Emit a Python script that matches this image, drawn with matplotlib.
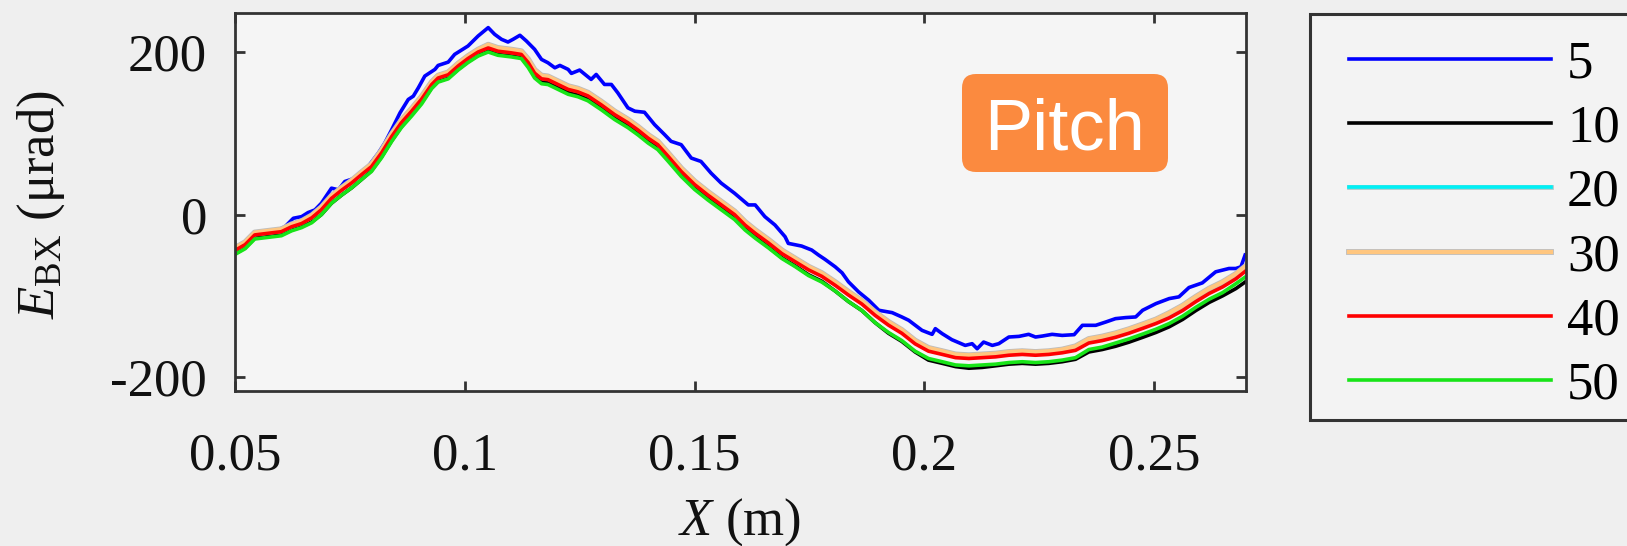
import matplotlib
matplotlib.use('Agg')
import matplotlib.pyplot as plt
import matplotlib.patheffects as pe
from matplotlib.patches import FancyBboxPatch, Rectangle
from matplotlib.transforms import IdentityTransform
from matplotlib.lines import Line2D

plt.rcParams['font.family'] = ['Liberation Serif', 'DejaVu Serif']
plt.rcParams['mathtext.fontset'] = 'custom'
plt.rcParams['mathtext.rm'] = 'Liberation Serif'
plt.rcParams['mathtext.it'] = 'Liberation Serif:italic'
plt.rcParams['mathtext.bf'] = 'Liberation Serif:bold'

# ---------------- data ----------------
legend_labels = ['5', '10', '20', '30', '40', '50']
xticks = [0.05, 0.1, 0.15, 0.2, 0.25]
xtick_labels = ['0.05', '0.1', '0.15', '0.2', '0.25']
yticks = [-200, 0, 200]
ytick_labels = ['-200', '0', '200']

x_5 = [0.0500, 0.0522, 0.0543, 0.0572, 0.0594, 0.0609, 0.0627, 0.0645, 0.0659, 0.0674,
       0.0688, 0.0710, 0.0725, 0.0739, 0.0761, 0.0775, 0.0790, 0.0812, 0.0826, 0.0841,
       0.0859, 0.0877, 0.0888, 0.0899, 0.0913, 0.0935, 0.0942, 0.0964, 0.0978, 0.1007,
       0.1029, 0.1051, 0.1065, 0.1080, 0.1094, 0.1105, 0.1120, 0.1134, 0.1152, 0.1167,
       0.1181, 0.1196, 0.1207, 0.1225, 0.1232, 0.1250, 0.1275, 0.1286, 0.1304, 0.1319,
       0.1333, 0.1355, 0.1370, 0.1391, 0.1413, 0.1435, 0.1449, 0.1471, 0.1493, 0.1514,
       0.1536, 0.1558, 0.1587,
       0.1617, 0.1632, 0.1653, 0.1675, 0.1697, 0.1704, 0.1733, 0.1755, 0.1770, 0.1784,
       0.1806, 0.1821, 0.1835, 0.1857, 0.1879, 0.1901, 0.1930, 0.1951, 0.1966, 0.1995,
       0.2017, 0.2024, 0.2039, 0.2060, 0.2089, 0.2104, 0.2115, 0.2129, 0.2148, 0.2162,
       0.2184, 0.2206, 0.2227, 0.2242, 0.2257, 0.2278, 0.2300, 0.2326, 0.2344, 0.2373,
       0.2395, 0.2416, 0.2438, 0.2460, 0.2475, 0.2504, 0.2533, 0.2554, 0.2576, 0.2605,
       0.2634, 0.2663, 0.2678, 0.2689, 0.2698]
e_5 = [-39.5, -35.4, -25.1, -21.0, -18.9, -14.8, -4.5, -2.5, 2.5, 5.8,
       14.0, 32.5, 30.5, 40.7, 44.8, 51.0, 59.3, 75.7, 88.1, 104.5,
       125.1, 141.6, 145.7, 156.0, 170.4, 178.6, 183.5, 187.6, 197.1, 207.4,
       219.7, 230.0, 221.8, 215.6, 212.3, 215.6, 220.6, 213.6, 203.3, 190.9,
       186.8, 180.6, 183.5, 178.6, 173.7, 177.8, 166.3, 172.4, 160.1, 160.1,
       149.8, 131.3, 127.2, 125.9, 110.7, 98.3, 90.1, 86.0, 69.5, 65.4,
       51.0, 38.7, 26.3,
       11.9, 11.9, -2.5, -12.8, -27.2, -35.4, -38.7, -43.6, -49.8, -55.1,
       -64.2, -71.6, -82.7, -95.1, -105.3, -117.7, -120.6, -125.9, -130.0, -142.4,
       -147.3, -140.3, -146.5, -153.9, -160.9, -158.8, -165.0, -156.8, -160.9, -158.8,
       -150.6, -149.8, -147.3, -150.6, -149.4, -147.3, -148.6, -147.7, -136.2, -136.2,
       -132.1, -128.0, -126.7, -125.9, -117.7, -109.5, -103.3, -101.2, -89.7, -84.0,
       -70.4, -66.3, -66.3, -64.2, -49.8]

x_c = [0.0500, 0.0522, 0.0543, 0.0572, 0.0601, 0.0623, 0.0645, 0.0667, 0.0688, 0.0710,
       0.0732, 0.0754, 0.0775, 0.0797, 0.0819, 0.0841, 0.0862, 0.0884, 0.0906, 0.0928,
       0.0942, 0.0964, 0.0986, 0.1007, 0.1029, 0.1051, 0.1072, 0.1101, 0.1123, 0.1138,
       0.1152, 0.1167, 0.1181, 0.1203, 0.1225, 0.1246, 0.1268, 0.1297, 0.1326, 0.1355,
       0.1377, 0.1399, 0.1420, 0.1442, 0.1471, 0.1500, 0.1529, 0.1558, 0.1587, 0.1610,
       0.1632, 0.1661, 0.1690, 0.1719, 0.1748, 0.1777, 0.1806, 0.1835, 0.1864, 0.1893,
       0.1922, 0.1951, 0.1980, 0.2009, 0.2039, 0.2068, 0.2097, 0.2126, 0.2155, 0.2184,
       0.2213, 0.2242, 0.2271, 0.2300, 0.2329, 0.2358, 0.2387, 0.2416, 0.2445, 0.2475,
       0.2504, 0.2533, 0.2562, 0.2591, 0.2620, 0.2649, 0.2678, 0.2698]

e_10 = [-48, -41, -29, -27, -25, -19, -15, -9, 0, 14,
        24, 33, 43, 54, 71, 91, 108, 123, 138, 156,
        164, 168, 179, 188, 196, 201, 197, 195, 193, 183,
        170, 163, 162, 156, 150, 147, 142, 131, 119, 109,
        100, 90, 82, 68, 49, 33, 20, 8, -4, -17,
        -27, -40, -53, -63, -74, -82, -94, -107, -118, -133,
        -146, -156, -169, -179, -183, -187, -189, -188, -186, -184,
        -183, -184, -183, -181, -178, -169, -166, -162, -157, -151,
        -145, -138, -129, -118, -108, -100, -91, -83]
e_20 = [-43, -36, -24, -22, -20, -14, -10, -3, 7, 21,
        31, 40, 50, 60, 77, 97, 114, 128, 143, 161,
        169, 173, 184, 193, 201, 207, 203, 201, 199, 189,
        176, 169, 168, 162, 156, 153, 148, 137, 125, 115,
        106, 96, 88, 74, 55, 39, 26, 14, 2, -11,
        -21, -33, -46, -56, -66, -74, -85, -97, -108, -122,
        -134, -144, -157, -166, -170, -174, -175, -174, -173, -171,
        -170, -171, -170, -167, -164, -155, -152, -148, -143, -137,
        -131, -123, -114, -104, -94, -86, -75, -66]
e_30 = [-41, -34, -22, -20, -18, -12, -8, -1, 9, 23,
        33, 42, 52, 62, 79, 99, 116, 130, 145, 163,
        171, 175, 186, 195, 203, 209, 205, 203, 201, 191,
        178, 171, 170, 164, 158, 155, 150, 139, 127, 117,
        108, 98, 90, 76, 57, 41, 28, 16, 4, -9,
        -19, -31, -44, -54, -64, -72, -83, -95, -106, -120,
        -132, -142, -155, -164, -168, -172, -173, -172, -171, -169,
        -168, -169, -168, -166, -162, -153, -150, -146, -141, -135,
        -129, -121, -112, -101, -91, -83, -73, -64]
e_40 = [-44, -37, -25, -23, -21, -15, -11, -4, 6, 20,
        30, 39, 49, 59, 76, 96, 113, 127, 142, 160,
        168, 172, 183, 192, 200, 205, 201, 199, 197, 187,
        174, 167, 166, 160, 154, 151, 146, 135, 123, 113,
        104, 94, 86, 72, 53, 37, 24, 12, 0, -13,
        -23, -35, -48, -58, -68, -76, -87, -99, -110, -124,
        -136, -146, -159, -168, -172, -176, -177, -176, -175, -173,
        -172, -173, -172, -170, -167, -158, -155, -151, -146, -140,
        -134, -127, -118, -107, -97, -89, -79, -70]
e_50 = [-49, -42, -30, -28, -26, -20, -16, -10, 0, 14,
        24, 33, 43, 53, 70, 90, 107, 121, 136, 155,
        163, 167, 178, 187, 195, 200, 196, 194, 192, 181,
        168, 161, 160, 154, 148, 145, 140, 129, 117, 107,
        98, 88, 80, 66, 47, 31, 18, 6, -6, -19,
        -29, -41, -54, -64, -75, -83, -94, -107, -118, -133,
        -145, -155, -168, -177, -181, -185, -186, -185, -184, -182,
        -181, -182, -181, -179, -176, -166, -163, -158, -153, -147,
        -141, -134, -125, -114, -104, -96, -85, -77]

# ---------------- figure ----------------
W, H = 1627, 546
fig = plt.figure(figsize=(W / 100, H / 100), dpi=100, facecolor='#efefef')
ax = fig.add_axes([235 / W, (H - 391) / H, 1011 / W, 378 / H])
ax.set_facecolor('#f5f5f5')

lw = 2.6
orange_fx = [pe.Stroke(linewidth=4.2, foreground='#bdbdbd'), pe.Normal()]
cyan_fx = [pe.Stroke(linewidth=3.4, foreground='#a8c8c8'), pe.Normal()]
styles = [
    dict(color='#0000ff', lw=lw),
    dict(color='#000000', lw=lw),
    dict(color='#00f0f5', lw=2.6, path_effects=cyan_fx),
    dict(color='#ffc67f', lw=3.0, path_effects=orange_fx),
    dict(color='#ff0000', lw=lw),
    dict(color='#18e418', lw=lw),
]
series = [(x_5, e_5), (x_c, e_10), (x_c, e_20), (x_c, e_30), (x_c, e_40), (x_c, e_50)]
for (xs, ys), st, lab in zip(series, styles, legend_labels):
    ax.plot(xs, ys, label=lab, solid_joinstyle='round', **st)

ax.set_xlim(0.05, 0.27)
ax.set_ylim(-217, 248)
ax.set_xticks(xticks)
ax.set_xticklabels(xtick_labels)
ax.set_yticks(yticks)
ax.set_yticklabels(ytick_labels)
spine_c = '#333333'
for s in ax.spines.values():
    s.set_linewidth(2.0)
    s.set_color(spine_c)
ax.tick_params(axis='both', direction='in', length=7, width=2.0, color=spine_c,
               top=True, right=True, labelsize=38, labelcolor='#111111')
ax.tick_params(axis='x', pad=30)
ax.tick_params(axis='y', pad=20)

# axis labels
fig.text(41 / W, (H - 205) / H, r'$E_{\mathrm{BX}}$ (μrad)', rotation=90,
         ha='center', va='center', fontsize=38, color='#111111')
fig.text(740 / W, (H - 535) / H, r'$X$ (m)', ha='center', va='baseline',
         fontsize=38, color='#111111')

# "Pitch" badge
badge = FancyBboxPatch((962, H - 172), 206, 98,
                       boxstyle='round,pad=0,rounding_size=14',
                       transform=IdentityTransform(), fc='#fb8a3f', ec='none', zorder=5)
fig.add_artist(badge)
fig.text(1065 / W, (H - 150) / H, 'Pitch', ha='center', va='baseline',
         fontsize=52, color='white', family='Liberation Sans', zorder=6)

# legend frame + entries
frame = Rectangle((1310, H - 420), 420, 406, transform=IdentityTransform(),
                  fc='#f3f3f3', ec=spine_c, lw=2.2, zorder=2)
fig.add_artist(frame)
handles = [Line2D([], [], **st) for st in styles]
leg = fig.legend(handles, legend_labels, loc='upper left',
                 bbox_to_anchor=(1349 / W, (H - 40) / H), frameon=False,
                 fontsize=38, handlelength=3.83, handletextpad=0.3,
                 labelspacing=0.31, borderpad=0, borderaxespad=0)
leg.set_zorder(3)

fig.savefig('out.png', dpi=100, facecolor=fig.get_facecolor())
